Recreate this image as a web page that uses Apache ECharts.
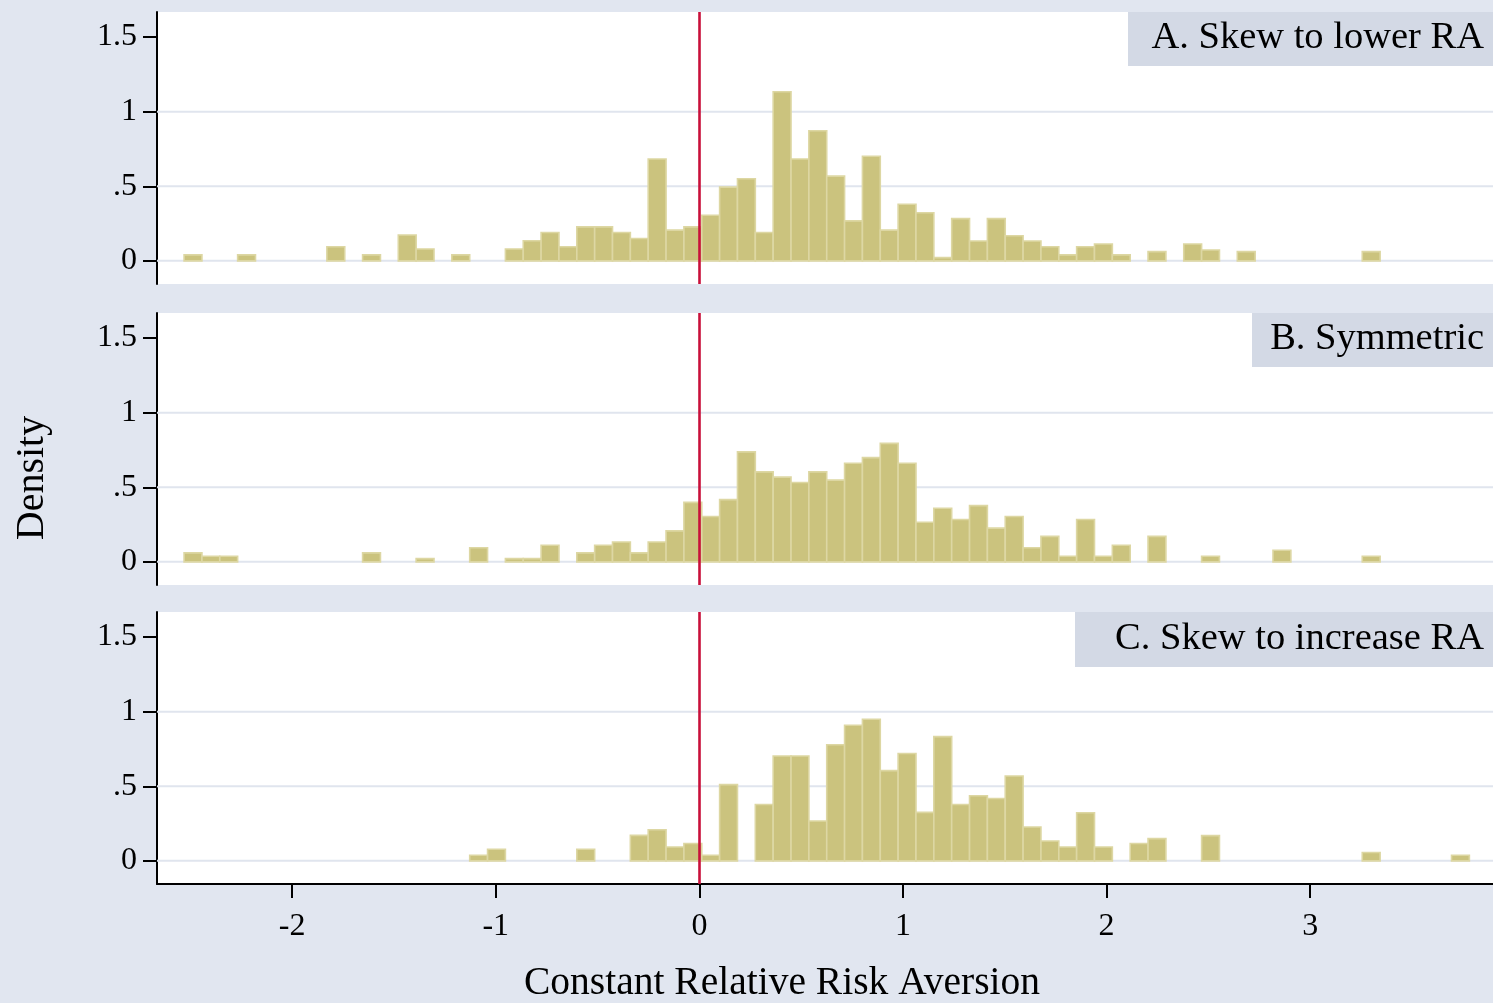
<!DOCTYPE html>
<html>
<head>
<meta charset="utf-8">
<style>
html,body{margin:0;padding:0;background:#E1E6F0;}
#c{width:1493px;height:1003px;}
</style>
<script src="https://cdn.jsdelivr.net/npm/echarts@6/dist/echarts.min.js"></script>
</head>
<body>
<div id="c"></div>
<script>
// ---------------- data ----------------
const panelTitles = ['A. Skew to lower RA', 'B. Symmetric', 'C. Skew to increase RA'];
const xTitle = 'Constant Relative Risk Aversion';
const yTitle = 'Density';

// histogram bins: 72 bins of equal width starting at binStart
const binStart = -2.531;
const binWidth = 0.08768;

const densityA = [
  0.040, 0, 0, 0.040, 0, 0, 0, 0, 0.095, 0,
  0.040, 0, 0.173, 0.080, 0, 0.040, 0, 0, 0.080, 0.135,
  0.190, 0.095, 0.228, 0.228, 0.190, 0.150, 0.683, 0.206, 0.228, 0.306,
  0.494, 0.550, 0.190, 1.133, 0.683, 0.872, 0.568, 0.268, 0.701, 0.206,
  0.379, 0.323, 0.022, 0.283, 0.133, 0.283, 0.168, 0.133, 0.095, 0.040,
  0.095, 0.113, 0.040, 0, 0.062, 0, 0.113, 0.073, 0, 0.062,
  0, 0, 0, 0, 0, 0, 0.062, 0, 0, 0,
  0, 0
];
const densityB = [
  0.060, 0.038, 0.038, 0, 0, 0, 0, 0, 0, 0,
  0.060, 0, 0, 0.022, 0, 0, 0.095, 0, 0.022, 0.022,
  0.111, 0, 0.060, 0.111, 0.133, 0.060, 0.133, 0.208, 0.399, 0.304,
  0.417, 0.737, 0.603, 0.568, 0.532, 0.603, 0.548, 0.661, 0.699, 0.794,
  0.661, 0.266, 0.359, 0.284, 0.377, 0.226, 0.304, 0.095, 0.171, 0.038,
  0.284, 0.038, 0.111, 0, 0.171, 0, 0, 0.038, 0, 0,
  0, 0.078, 0, 0, 0, 0, 0.038, 0, 0, 0,
  0, 0
];
const densityC = [
  0, 0, 0, 0, 0, 0, 0, 0, 0, 0,
  0, 0, 0, 0, 0, 0, 0.038, 0.078, 0, 0,
  0, 0, 0.078, 0, 0, 0.171, 0.209, 0.093, 0.116, 0.038,
  0.511, 0, 0.378, 0.703, 0.703, 0.267, 0.778, 0.909, 0.949, 0.605,
  0.720, 0.325, 0.833, 0.378, 0.436, 0.418, 0.569, 0.227, 0.133, 0.093,
  0.323, 0.093, 0, 0.116, 0.149, 0, 0, 0.169, 0, 0,
  0, 0, 0, 0, 0, 0, 0.056, 0, 0, 0,
  0, 0.038
];

const xTicks = [-2, -1, 0, 1, 2, 3];
const yTicks = [0, 0.5, 1, 1.5];
const yTickLabels = ['0', '.5', '1', '1.5'];
const yGridValues = [0, 0.5, 1];
const refLineX = 0;

// ---------------- chart ----------------
const FONT = "'Liberation Serif', 'DejaVu Serif', serif";
const panels = [densityA, densityB, densityC];
const gridTops = [12, 313, 612];
const xMin = -2.664, xMax = 3.898;
const yMin = -0.155, yMax = 1.668;

const grids = gridTops.map(t => ({
  left: 157, top: t, width: 1336, height: 272,
  show: true, backgroundColor: '#ffffff', borderWidth: 0
}));

const xAxes = panels.map((_, i) => {
  const last = i === panels.length - 1;
  return {
    type: 'value', gridIndex: i, min: xMin, max: xMax,
    axisLine: { show: last, onZero: false, lineStyle: { color: '#000', width: 2 } },
    axisTick: { show: last, customValues: xTicks, length: 14, lineStyle: { color: '#000', width: 2 } },
    axisLabel: { show: last, customValues: xTicks, margin: 27, fontFamily: FONT, fontSize: 32, color: '#000',
      formatter: v => String(v) },
    splitLine: { show: false }
  };
});

const yAxes = panels.map((_, i) => ({
  type: 'value', gridIndex: i, min: yMin, max: yMax,
  axisLine: { show: true, onZero: false, lineStyle: { color: '#000', width: 2 } },
  axisTick: { show: true, customValues: yTicks, length: 14, lineStyle: { color: '#000', width: 2 } },
  axisLabel: { show: true, customValues: yTicks, margin: 20, fontFamily: FONT, fontSize: 32, color: '#000',
    formatter: v => { const j = yTicks.findIndex(t => Math.abs(t - v) < 1e-9); return j >= 0 ? yTickLabels[j] : ''; } },
  splitLine: { show: false }
}));

const gridSeries = panels.map((_, i) => ({
  type: 'custom', xAxisIndex: i, yAxisIndex: i, z: 1, silent: true, animation: false,
  data: yGridValues.map(v => [0, v]),
  renderItem: (params, api) => {
    const y = api.coord([0, api.value(1)])[1];
    const cs = params.coordSys;
    return { type: 'line', shape: { x1: cs.x, y1: y, x2: cs.x + cs.width, y2: y },
      style: { stroke: '#E0E5EE', lineWidth: 2 } };
  }
}));

const barSeries = panels.map((dens, i) => ({
  type: 'custom', xAxisIndex: i, yAxisIndex: i, z: 3, silent: true, animation: false,
  data: dens.map((d, k) => [binStart + k * binWidth, binStart + (k + 1) * binWidth, d]).filter(r => r[2] > 0),
  encode: { x: [0, 1], y: 2 },
  renderItem: (params, api) => {
    const a = api.coord([api.value(0), api.value(2)]);
    const b = api.coord([api.value(1), 0]);
    return { type: 'rect', shape: { x: a[0], y: a[1], width: b[0] - a[0], height: b[1] - a[1] },
      style: { fill: '#CBC37E', stroke: '#DDD7A3', lineWidth: 1.6 } };
  },
  markLine: {
    silent: true, symbol: ['none', 'none'], label: { show: false }, animation: false,
    lineStyle: { color: '#C8103A', width: 2.6, type: 'solid' },
    emphasis: { disabled: true },
    data: [{ xAxis: refLineX }]
  }
}));

const titleBoxes = [
  { x: 1128, y: 12, w: 365, h: 54 },
  { x: 1252, y: 313, w: 241, h: 54 },
  { x: 1075, y: 612, w: 418, h: 55 }
];

const graphics = [];
titleBoxes.forEach((b, i) => {
  graphics.push({ type: 'rect', z: 100, shape: { x: b.x, y: b.y, width: b.w, height: b.h }, style: { fill: '#D3D9E5' } });
  graphics.push({ type: 'text', z: 101, x: 1484, y: b.y + b.h / 2 - 1,
    style: { text: panelTitles[i], font: '38.5px ' + FONT, fill: '#000', textAlign: 'right', textVerticalAlign: 'middle' } });
});
graphics.push({ type: 'text', z: 101, x: 782, y: 984,
  style: { text: xTitle, font: '39.5px ' + FONT, fill: '#000', textAlign: 'center', textVerticalAlign: 'middle' } });
graphics.push({ type: 'text', z: 101, x: 32, y: 478, rotation: Math.PI / 2,
  style: { text: yTitle, font: '40px ' + FONT, fill: '#000', textAlign: 'center', textVerticalAlign: 'middle' } });

const chart = echarts.init(document.getElementById('c'), null, { renderer: 'canvas' });
chart.setOption({
  backgroundColor: '#E1E6F0',
  animation: false,
  grid: grids,
  xAxis: xAxes,
  yAxis: yAxes,
  series: gridSeries.concat(barSeries),
  graphic: graphics
});
</script>
</body>
</html>
